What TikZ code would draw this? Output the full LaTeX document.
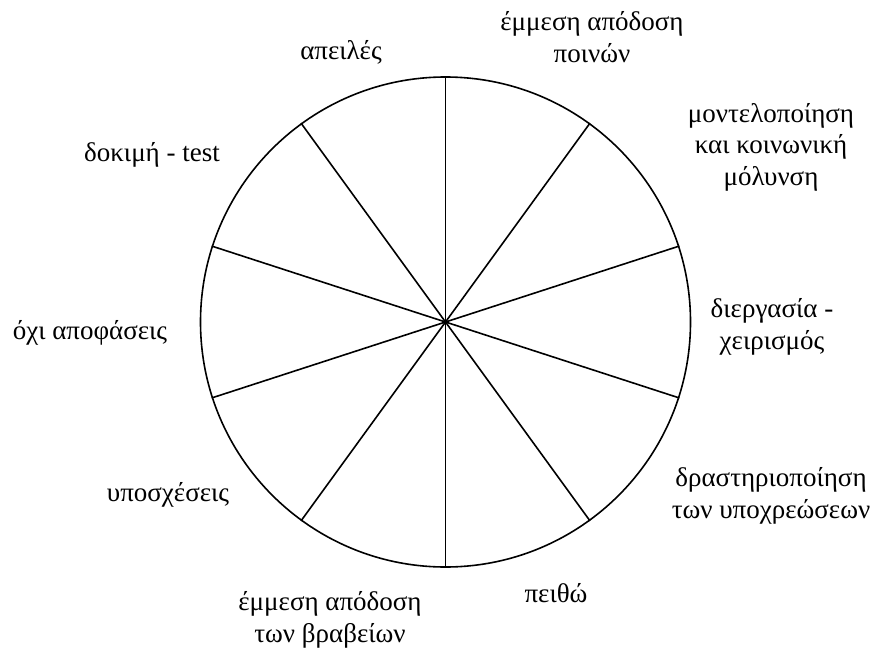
\documentclass[tikz,border=0pt]{standalone}
\usepackage{fontspec}
\setmainfont{Liberation Serif}
\begin{document}
\begin{tikzpicture}[x=1pt,y=-1pt,
  lbl/.style={align=center,font=\fontsize{27}{31.5}\selectfont,inner sep=0pt},
  spoke/.style={line width=1.6pt}]
\useasboundingbox (0,0) rectangle (877,650);
\coordinate (c) at (445.5,322);
\node[draw,circle,minimum size=490pt,line width=1.6pt,inner sep=0pt] (circ) at (c) {};
\foreach \a in {90,54,18,-18,-54,-90,-126,-162,162,126}
  \draw[spoke] (c) -- (circ.\a);
\node[lbl] (l1) at (592,37) {έμμεση απόδοση\\ποινών};
\node[lbl] (l2) at (771,147) {μοντελοποίηση\\και κοινωνική\\μόλυνση};
\node[lbl] (l3) at (772,327) {διεργασία -\\χειρισμός};
\node[lbl] (l4) at (771,496) {δραστηριοποίηση\\των υποχρεώσεων};
\node[lbl] (l5) at (556,593) {πειθώ};
\node[lbl] (l6) at (330,620) {έμμεση απόδοση\\των βραβείων};
\node[lbl] (l7) at (168,495) {υποσχέσεις};
\node[lbl] (l8) at (90,333) {όχι αποφάσεις};
\node[lbl] (l9) at (152,155) {δοκιμή - test};
\node[lbl] (l10) at (341,52) {απειλές};
\end{tikzpicture}
\end{document}
